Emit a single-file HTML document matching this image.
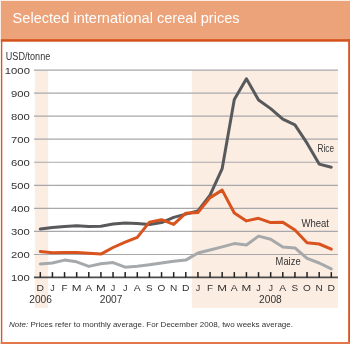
<!DOCTYPE html>
<html><head><meta charset="utf-8"><style>
html,body{margin:0;padding:0;background:#fff;width:350px;height:344px;overflow:hidden}
svg{display:block}
text{font-family:"Liberation Sans",sans-serif;filter:url(#nf)}
.g{stroke:#a8a8ab;stroke-width:1.2}
.t{stroke:#222;stroke-width:1.5}
.yl{font-size:9.8px;fill:#333;text-anchor:end}
.ml{font-size:9px;fill:#333;text-anchor:middle}
.yr{font-size:10.2px;fill:#333;text-anchor:middle}
.lb{font-size:10.3px;fill:#333}
.ln{fill:none;stroke-width:3;stroke-linejoin:round;stroke-linecap:round}
</style></head><body>
<svg width="350" height="344" viewBox="0 0 350 344">
<filter id="nf"><feOffset dx="0" dy="0"/></filter>
<rect x="0" y="0" width="350" height="344" fill="#fff"/>
<rect x="0.8" y="0.8" width="349.2" height="38.4" fill="#eca37a"/>
<rect x="0.8" y="39.1" width="348" height="2.6" fill="#d6511a"/>
<rect x="0.9" y="41" width="1.4" height="303" fill="#d9561f"/>
<rect x="348.2" y="39" width="1.8" height="305" fill="#d9531b"/>
<rect x="0.7" y="342" width="349.3" height="2" fill="#e3764a"/>
<text x="12.6" y="22.8" style="font-size:14.5px;fill:#fff" textLength="227">Selected international cereal prices</text>
<rect x="34.8" y="69.9" width="13.3" height="238" fill="#fcede3"/>
<rect x="191.9" y="69.9" width="146" height="238" fill="#fcede3"/>
<line x1="34" y1="254.49" x2="337.9" y2="254.49" class="g"/><line x1="34" y1="231.44" x2="337.9" y2="231.44" class="g"/><line x1="34" y1="208.38" x2="337.9" y2="208.38" class="g"/><line x1="34" y1="185.33" x2="337.9" y2="185.33" class="g"/><line x1="34" y1="162.27" x2="337.9" y2="162.27" class="g"/><line x1="34" y1="139.22" x2="337.9" y2="139.22" class="g"/><line x1="34" y1="116.16" x2="337.9" y2="116.16" class="g"/><line x1="34" y1="93.11" x2="337.9" y2="93.11" class="g"/><line x1="34" y1="70.05" x2="337.9" y2="70.05" class="g"/>
<line x1="34" y1="277.4" x2="337.9" y2="277.4" stroke="#4a4a4a" stroke-width="1.7"/>
<line x1="40.30" y1="272.1" x2="40.30" y2="277.4" class="t"/><line x1="52.42" y1="272.1" x2="52.42" y2="277.4" class="t"/><line x1="64.55" y1="272.1" x2="64.55" y2="277.4" class="t"/><line x1="76.67" y1="272.1" x2="76.67" y2="277.4" class="t"/><line x1="88.80" y1="272.1" x2="88.80" y2="277.4" class="t"/><line x1="100.92" y1="272.1" x2="100.92" y2="277.4" class="t"/><line x1="113.05" y1="272.1" x2="113.05" y2="277.4" class="t"/><line x1="125.17" y1="272.1" x2="125.17" y2="277.4" class="t"/><line x1="137.30" y1="272.1" x2="137.30" y2="277.4" class="t"/><line x1="149.43" y1="272.1" x2="149.43" y2="277.4" class="t"/><line x1="161.55" y1="272.1" x2="161.55" y2="277.4" class="t"/><line x1="173.68" y1="272.1" x2="173.68" y2="277.4" class="t"/><line x1="185.80" y1="272.1" x2="185.80" y2="277.4" class="t"/><line x1="197.93" y1="272.1" x2="197.93" y2="277.4" class="t"/><line x1="210.05" y1="272.1" x2="210.05" y2="277.4" class="t"/><line x1="222.18" y1="272.1" x2="222.18" y2="277.4" class="t"/><line x1="234.30" y1="272.1" x2="234.30" y2="277.4" class="t"/><line x1="246.43" y1="272.1" x2="246.43" y2="277.4" class="t"/><line x1="258.55" y1="272.1" x2="258.55" y2="277.4" class="t"/><line x1="270.68" y1="272.1" x2="270.68" y2="277.4" class="t"/><line x1="282.80" y1="272.1" x2="282.80" y2="277.4" class="t"/><line x1="294.93" y1="272.1" x2="294.93" y2="277.4" class="t"/><line x1="307.05" y1="272.1" x2="307.05" y2="277.4" class="t"/><line x1="319.18" y1="272.1" x2="319.18" y2="277.4" class="t"/><line x1="331.30" y1="272.1" x2="331.30" y2="277.4" class="t"/>
<text x="5.8" y="60.4" class="lb" style="font-size:10px" textLength="44.5" lengthAdjust="spacingAndGlyphs">USD/tonne</text>
<text x="26.000" y="281.50" class="yl" transform="scale(1.15,1)">100</text><text x="26.000" y="258.44" class="yl" transform="scale(1.15,1)">200</text><text x="26.000" y="235.39" class="yl" transform="scale(1.15,1)">300</text><text x="26.000" y="212.33" class="yl" transform="scale(1.15,1)">400</text><text x="26.000" y="189.28" class="yl" transform="scale(1.15,1)">500</text><text x="26.000" y="166.22" class="yl" transform="scale(1.15,1)">600</text><text x="26.000" y="143.17" class="yl" transform="scale(1.15,1)">700</text><text x="26.000" y="120.11" class="yl" transform="scale(1.15,1)">800</text><text x="26.000" y="97.06" class="yl" transform="scale(1.15,1)">900</text><text x="26.000" y="74.00" class="yl" transform="scale(1.15,1)">1000</text>
<text x="35.043" y="290.8" class="ml" transform="scale(1.15,1)">D</text><text x="52.425" y="290.8" class="ml" transform="scale(1.0,1)">J</text><text x="58.682" y="290.8" class="ml" transform="scale(1.1,1)">F</text><text x="58.981" y="290.8" class="ml" transform="scale(1.3,1)">M</text><text x="77.217" y="290.8" class="ml" transform="scale(1.15,1)">A</text><text x="77.635" y="290.8" class="ml" transform="scale(1.3,1)">M</text><text x="113.050" y="290.8" class="ml" transform="scale(1.0,1)">J</text><text x="125.175" y="290.8" class="ml" transform="scale(1.0,1)">J</text><text x="119.391" y="290.8" class="ml" transform="scale(1.15,1)">A</text><text x="135.841" y="290.8" class="ml" transform="scale(1.1,1)">S</text><text x="144.241" y="290.8" class="ml" transform="scale(1.12,1)">O</text><text x="155.067" y="290.8" class="ml" transform="scale(1.12,1)">N</text><text x="161.565" y="290.8" class="ml" transform="scale(1.15,1)">D</text><text x="197.925" y="290.8" class="ml" transform="scale(1.0,1)">J</text><text x="190.955" y="290.8" class="ml" transform="scale(1.1,1)">F</text><text x="170.904" y="290.8" class="ml" transform="scale(1.3,1)">M</text><text x="203.739" y="290.8" class="ml" transform="scale(1.15,1)">A</text><text x="189.558" y="290.8" class="ml" transform="scale(1.3,1)">M</text><text x="258.550" y="290.8" class="ml" transform="scale(1.0,1)">J</text><text x="270.675" y="290.8" class="ml" transform="scale(1.0,1)">J</text><text x="245.913" y="290.8" class="ml" transform="scale(1.15,1)">A</text><text x="268.114" y="290.8" class="ml" transform="scale(1.1,1)">S</text><text x="274.152" y="290.8" class="ml" transform="scale(1.12,1)">O</text><text x="284.978" y="290.8" class="ml" transform="scale(1.12,1)">N</text><text x="288.087" y="290.8" class="ml" transform="scale(1.15,1)">D</text>
<text x="40.6" y="302.8" class="yr">2006</text>
<text x="111.1" y="302.8" class="yr">2007</text>
<text x="270.4" y="302.8" class="yr">2008</text>
<polyline points="40.30,263.90 52.42,263.00 64.55,260.10 76.67,261.80 88.80,266.40 100.92,263.70 113.05,262.60 125.17,267.20 137.30,266.20 149.43,264.70 161.55,263.00 173.68,261.30 185.80,260.10 197.93,253.00 210.05,250.00 222.18,246.90 234.30,243.60 246.43,245.00 258.55,236.10 270.68,239.20 282.80,246.90 294.93,247.90 307.05,258.40 319.18,263.00 331.30,268.90" class="ln" stroke="#a6a9ab"/>
<polyline points="40.30,229.10 52.42,227.50 64.55,226.40 76.67,225.70 88.80,226.60 100.92,226.20 113.05,224.10 125.17,223.10 137.30,223.60 149.43,224.40 161.55,222.60 173.68,217.40 185.80,214.10 197.93,211.00 210.05,195.20 222.18,168.60 234.30,99.60 246.43,78.70 258.55,100.00 270.68,108.60 282.80,119.10 294.93,124.80 307.05,143.20 319.18,164.10 331.30,167.20" class="ln" stroke="#58595b"/>
<polyline points="40.30,251.40 52.42,252.80 64.55,252.60 76.67,252.60 88.80,253.30 100.92,254.10 113.05,247.50 125.17,242.20 137.30,237.40 149.43,222.10 161.55,219.70 173.68,224.40 185.80,213.20 197.93,212.50 210.05,197.60 222.18,190.10 234.30,213.00 246.43,220.90 258.55,218.30 270.68,222.60 282.80,222.20 294.93,230.00 307.05,242.80 319.18,244.00 331.30,249.10" class="ln" stroke="#d8531e"/>
<text x="317.5" y="151.7" class="lb" textLength="16.5" lengthAdjust="spacingAndGlyphs">Rice</text>
<text x="301.4" y="226.9" class="lb" textLength="27.6" lengthAdjust="spacingAndGlyphs">Wheat</text>
<text x="275.6" y="264.8" class="lb" textLength="25" lengthAdjust="spacingAndGlyphs">Maize</text>
<text x="9" y="327.4" style="font-size:8px;fill:#333" textLength="284"><tspan font-style="italic">Note:</tspan> Prices refer to monthly average. For December 2008, two weeks average.</text>
</svg>
</body></html>
